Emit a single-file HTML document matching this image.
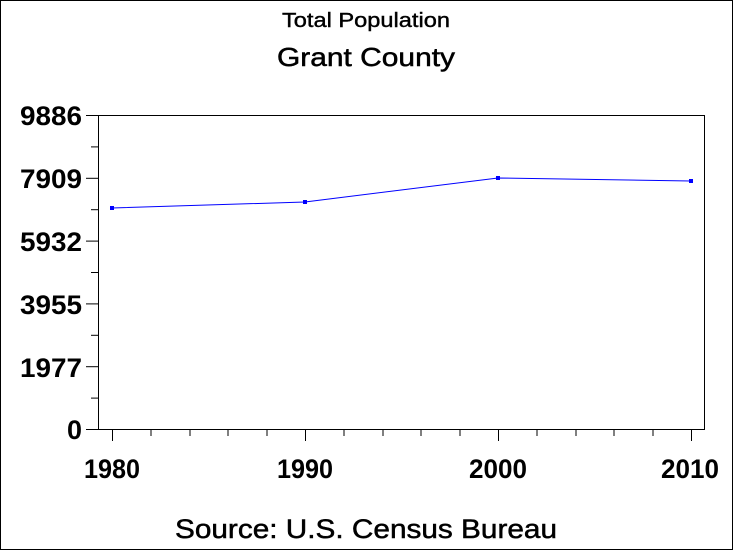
<!DOCTYPE html>
<html><head><style>body{margin:0;background:#fff}</style></head><body>
<svg width="733" height="550" xmlns="http://www.w3.org/2000/svg" font-family="Liberation Sans, Arial, sans-serif">
<rect x="0.5" y="0.5" width="732" height="549" fill="#fff" stroke="#000"/>
<text x="282" y="27" font-size="20" textLength="168" lengthAdjust="spacingAndGlyphs" stroke="#000" stroke-width="0.4">Total Population</text>
<text x="277" y="66" font-size="26" textLength="178" lengthAdjust="spacingAndGlyphs" stroke="#000" stroke-width="0.5">Grant County</text>
<rect x="98.5" y="115.5" width="606" height="314" fill="none" stroke="#000"/>
<g stroke="#000">
<line x1="86" y1="115.5" x2="98" y2="115.5"/><line x1="91" y1="146.9" x2="98" y2="146.9"/>
<line x1="86" y1="178.3" x2="98" y2="178.3"/><line x1="91" y1="209.7" x2="98" y2="209.7"/>
<line x1="86" y1="241.1" x2="98" y2="241.1"/><line x1="91" y1="272.5" x2="98" y2="272.5"/>
<line x1="86" y1="303.9" x2="98" y2="303.9"/><line x1="91" y1="335.3" x2="98" y2="335.3"/>
<line x1="86" y1="366.7" x2="98" y2="366.7"/><line x1="91" y1="398.1" x2="98" y2="398.1"/>
<line x1="86" y1="429.5" x2="98" y2="429.5"/>
<line x1="112.5" y1="430" x2="112.5" y2="441"/><line x1="305.5" y1="430" x2="305.5" y2="441"/>
<line x1="498.5" y1="430" x2="498.5" y2="441"/><line x1="691.5" y1="430" x2="691.5" y2="441"/>
<line x1="151" y1="430" x2="151" y2="436"/><line x1="190" y1="430" x2="190" y2="436"/>
<line x1="228" y1="430" x2="228" y2="436"/><line x1="267" y1="430" x2="267" y2="436"/>
<line x1="344" y1="430" x2="344" y2="436"/><line x1="383" y1="430" x2="383" y2="436"/>
<line x1="421" y1="430" x2="421" y2="436"/><line x1="460" y1="430" x2="460" y2="436"/>
<line x1="537" y1="430" x2="537" y2="436"/><line x1="576" y1="430" x2="576" y2="436"/>
<line x1="614" y1="430" x2="614" y2="436"/><line x1="653" y1="430" x2="653" y2="436"/>
</g>
<g font-size="27" font-weight="bold">
<text x="20" y="125" textLength="62" lengthAdjust="spacingAndGlyphs">9886</text>
<text x="20" y="188" textLength="62" lengthAdjust="spacingAndGlyphs">7909</text>
<text x="20" y="251" textLength="62" lengthAdjust="spacingAndGlyphs">5932</text>
<text x="20" y="314" textLength="62" lengthAdjust="spacingAndGlyphs">3955</text>
<text x="20" y="377" textLength="62" lengthAdjust="spacingAndGlyphs">1977</text>
<text x="67" y="439" textLength="15" lengthAdjust="spacingAndGlyphs">0</text>
</g>
<g font-size="27" font-weight="bold">
<text x="84" y="478" textLength="56" lengthAdjust="spacingAndGlyphs">1980</text>
<text x="277" y="478" textLength="56" lengthAdjust="spacingAndGlyphs">1990</text>
<text x="469" y="478" textLength="58" lengthAdjust="spacingAndGlyphs">2000</text>
<text x="661" y="478" textLength="58" lengthAdjust="spacingAndGlyphs">2010</text>
</g>
<polyline points="112,208 305,202 498,178 691,181" fill="none" stroke="#0000ff" stroke-width="1"/>
<g fill="#0000ff"><rect x="110" y="206" width="4" height="4"/><rect x="303" y="200" width="4" height="4"/><rect x="496" y="176" width="4" height="4"/><rect x="689" y="179" width="4" height="4"/></g>
<text x="175" y="538" font-size="27" textLength="382" lengthAdjust="spacingAndGlyphs" stroke="#000" stroke-width="0.5">Source: U.S. Census Bureau</text>
</svg>
</body></html>
